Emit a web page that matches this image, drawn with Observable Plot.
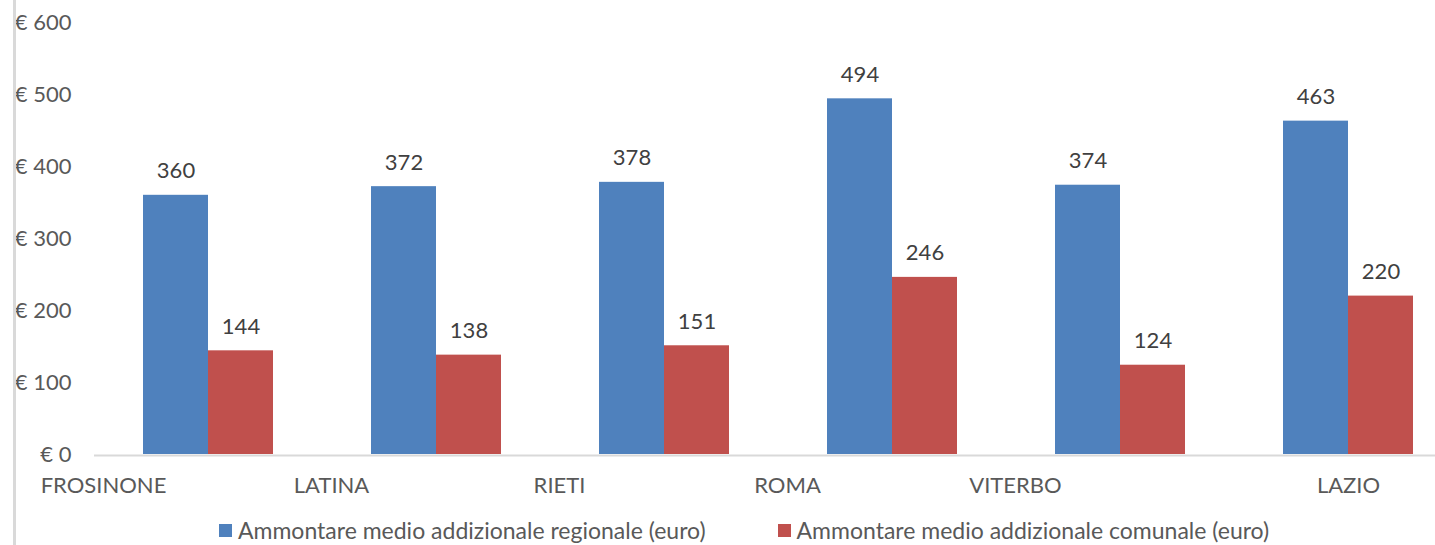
<!DOCTYPE html>
<html>
<head>
<meta charset="utf-8">
<script src="https://cdn.jsdelivr.net/npm/d3@7"></script>
<script src="https://cdn.jsdelivr.net/npm/@observablehq/plot@0.6"></script>
<style>
  html, body { margin: 0; padding: 0; background: #fff; overflow: hidden; }
  body { width: 1435px; height: 545px; position: relative; font-family: Lato, sans-serif; }
  #frame { position: absolute; left: 13px; top: 0; width: 3px; height: 545px; background: #d9d9d9; z-index: 2; }
  #legend { height: 40px; margin-top: 5px; display: flex; align-items: center; padding-left: 219px; font-size: 23px; color: #595959; }
  .item { display: flex; align-items: center; margin-right: 72px; white-space: nowrap; }
  .sw { width: 13px; height: 13px; margin-right: 6px; }
</style>
</head>
<body>
<div id="frame"></div>
<div id="chart"></div>
<div id="legend"></div>
<script>
const categories = ["FROSINONE", "LATINA", "RIETI", "ROMA", "VITERBO", "LAZIO"];
const regionale = [360, 372, 378, 494, 374, 463];
const comunale = [144, 138, 151, 246, 124, 220];
const seriesNames = ["Ammontare medio addizionale regionale (euro)", "Ammontare medio addizionale comunale (euro)"];
const seriesColors = ["#4f81bd", "#c0504d"];
const yTicks = [0, 100, 200, 300, 400, 500, 600];
const totalCategory = "LAZIO";

const data = categories.flatMap((c, i) => [
  {cat: c, series: seriesNames[0], value: regionale[i]},
  {cat: c, series: seriesNames[1], value: comunale[i]}
]);

const chart = Plot.plot({
  width: 1435,
  height: 505,
  marginLeft: 93,
  marginRight: -27,
  marginTop: 22,
  marginBottom: 51,
  style: {fontFamily: "Lato, sans-serif", fontSize: "22px", color: "#595959", background: "white", overflow: "visible"},
  fx: {domain: categories, paddingInner: 0, paddingOuter: 0, label: null, axis: null},
  x: {domain: seriesNames, paddingInner: 0, paddingOuter: 0.746, axis: null},
  y: {domain: [0, 600], label: null},
  color: {domain: seriesNames, range: seriesColors},
  marks: [
    Plot.ruleY([0], {stroke: "#d9d9d9", strokeWidth: 2, dy: 1}),
    Plot.barY(data, {fx: "cat", x: "series", y: "value", fill: "series"}),
    Plot.text(data, {fx: "cat", x: "series", y: "value", text: d => String(d.value), dy: -24, fill: "#404040"}),
    Plot.axisY(yTicks, {tickSize: 0, tickPadding: 23, tickFormat: d => "€ " + d, label: null}),
    Plot.axisFx({anchor: "bottom", tickSize: 0, tickPadding: 23, dx: -105, label: null, tickFormat: d => d === totalCategory ? "" : d}),
    Plot.axisFx({anchor: "bottom", tickSize: 0, tickPadding: 23, label: null, tickFormat: d => d === totalCategory ? d : ""})
  ]
});
document.getElementById("chart").appendChild(chart);

const legend = document.getElementById("legend");
seriesNames.forEach((name, i) => {
  const item = document.createElement("div");
  item.className = "item";
  const sw = document.createElement("span");
  sw.className = "sw";
  sw.style.background = seriesColors[i];
  const label = document.createElement("span");
  label.textContent = name;
  item.appendChild(sw);
  item.appendChild(label);
  legend.appendChild(item);
});
</script>
</body>
</html>
